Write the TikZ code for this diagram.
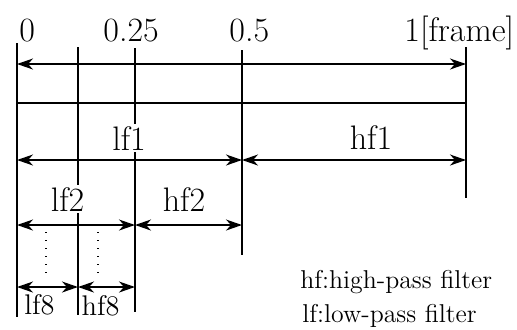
\documentclass[tikz,border=0pt]{standalone}
\usetikzlibrary{arrows.meta}
\begin{document}
\begin{tikzpicture}[x=0.5pt,y=-0.5pt,
  ln/.style={line width=0.8pt},
  tip/.tip={Stealth[length=8pt,width=5.5pt,inset=2.5pt]},
  dim/.style={line width=0.8pt,tip-tip},
  dots/.style={line width=0.7pt,dash pattern=on 0.7pt off 3.3pt},
  lbl/.style={font=\fontsize{17}{20}\selectfont, inner sep=1pt},
  lbls/.style={font=\fontsize{14.2}{17}\selectfont, inner sep=1pt},
  lblw/.style={lbl, fill=white},
  leg/.style={font=\fontsize{12.9}{15}\selectfont, anchor=base west, inner sep=0pt}]
\useasboundingbox (0,0) rectangle (517,329);
% vertical guide lines
\coordinate (v0t) at (17,43);  \coordinate (v0b) at (17,317);
\coordinate (v1t) at (78,47);  \coordinate (v1b) at (78,315);
\coordinate (v2t) at (135,48); \coordinate (v2b) at (135,312);
\coordinate (v3t) at (242,50); \coordinate (v3b) at (242,255);
\coordinate (v4t) at (466,47); \coordinate (v4b) at (466,198);
\foreach \i in {0,...,4} {\draw[ln] (v\i t) -- (v\i b);}
% horizontal arrow end points
\coordinate (f0) at (17,64);  \coordinate (f1) at (466,64);
\coordinate (b0) at (17,103); \coordinate (b1) at (466,103);
\coordinate (l0) at (17,160); \coordinate (l1) at (242,160); \coordinate (l2) at (466,160);
\coordinate (m0) at (17,225); \coordinate (m1) at (135,225); \coordinate (m2) at (242,225);
\coordinate (s0) at (17,287); \coordinate (s1) at (78,287);  \coordinate (s2) at (135,287);
\draw[dim] (f0) -- (f1);
\draw[ln] (b0) -- (b1);
\draw[dim] (l0) -- (l1);
\draw[dim] (l1) -- (l2);
\draw[dim] (m0) -- (m1);
\draw[dim] (m1) -- (m2);
\draw[dim] (s0) -- (s1);
\draw[dim] (s1) -- (s2);
% dotted continuation
\coordinate (d0t) at (46,232); \coordinate (d0b) at (46,273);
\coordinate (d1t) at (98,232); \coordinate (d1b) at (98,273);
\draw[dots] (d0t) -- (d0b);
\draw[dots] (d1t) -- (d1b);
% scale labels
\node[lbl, anchor=base west] (t0) at (17,41) {0};
\node[lbl, anchor=base west] (t1) at (101,41) {0.25};
\node[lbl, anchor=base west] (t2) at (227,41) {0.5};
\node[lbl, anchor=base west] (t3) at (402,41) {1[frame]};
% band labels
\node[lblw, anchor=base] (lf1) at (129,150) {lf1};
\node[lbl, anchor=base] (hf1) at (371,149) {hf1};
\node[lblw, anchor=base] (lf2) at (67.5,211) {lf2};
\node[lbl, anchor=base] (hf2) at (184,211) {hf2};
\node[lbls, anchor=base] (lf8) at (39.5,314) {lf8};
\node[lbls, anchor=base] (hf8) at (100.5,315) {hf8};
% legend
\node[leg] (leg1) at (300,288) {hf:high-pass filter};
\node[leg] (leg2) at (302,322) {lf:low-pass filter};
\end{tikzpicture}
\end{document}
